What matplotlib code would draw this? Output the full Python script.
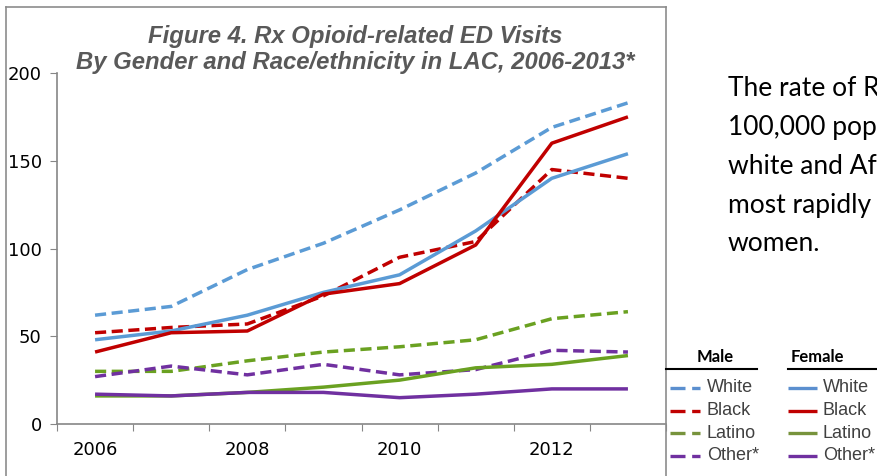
import matplotlib
matplotlib.use("Agg")
from matplotlib import pyplot as plt
from matplotlib.lines import Line2D

years = [2006, 2007, 2008, 2009, 2010, 2011, 2012, 2013]
races = ["White", "Black", "Latino", "Other*"]

male_white = [62, 67, 88, 103, 122, 143, 169, 183]
male_black = [52, 55, 57, 73, 95, 104, 145, 140]
male_latino = [30, 30, 36, 41, 44, 48, 60, 64]
male_other = [27, 33, 28, 34, 28, 31, 42, 41]

female_white = [48, 53, 62, 75, 85, 110, 140, 154]
female_black = [41, 52, 53, 74, 80, 102, 160, 175]
female_latino = [16, 16, 18, 21, 25, 32, 34, 39]
female_other = [17, 16, 18, 18, 15, 17, 20, 20]

male = [male_white, male_black, male_latino, male_other]
female = [female_white, female_black, female_latino, female_other]
line_colors = ["#5b9bd5", "#c00000", "#6aa121", "#7030a0"]
legend_colors = ["#5b8fcf", "#c00000", "#77933c", "#7030a0"]

side_text = ["The rate of R", "100,000 pop", "white and Af", "most rapidly", "women."]

W, H = 878, 476
fig = plt.figure(figsize=(W / 100, H / 100), dpi=100)

def fx(px):
    return px / W

def fy(py):
    return 1 - py / H

ax = fig.add_axes([fx(57), fy(424), fx(666) - fx(57), fy(73) - fy(424)])
ax.patch.set_alpha(0)

dash = (3.2, 1.6)
for vals, c in zip(male, line_colors):
    ax.plot(years, vals, color=c, lw=2.5, dashes=dash, dash_capstyle="butt")
for vals, c in zip(female, line_colors):
    ax.plot(years, vals, color=c, lw=2.5, solid_capstyle="butt")

ax.set_xlim(2005.5, 2013.5)
ax.set_ylim(0, 200)
ax.set_yticks([0, 50, 100, 150, 200])
ax.set_xticks([y - 0.5 for y in years] + [2013.5])
ax.set_xticklabels([])
ax.set_xticks([2006, 2008, 2010, 2012], minor=True)
ax.set_xticklabels(["2006", "2008", "2010", "2012"], minor=True)
ax.tick_params(axis="x", which="minor", length=0, pad=12, labelsize=13)
ax.tick_params(axis="x", which="major", length=5, color="#868686")
ax.tick_params(axis="y", length=5, color="#868686", pad=6, labelsize=13)
for s in ["top", "right"]:
    ax.spines[s].set_visible(False)
for s in ["left", "bottom"]:
    ax.spines[s].set_color("#868686")
    ax.spines[s].set_linewidth(1.2)
ax.spines["bottom"].set_zorder(0)

# chart border
bc = "#8c8c8c"
fig.add_artist(Line2D([fx(6), fx(6)], [fy(7), 0], color=bc, lw=1.2))
fig.add_artist(Line2D([fx(6), fx(666)], [fy(7), fy(7)], color=bc, lw=1.2))
fig.add_artist(Line2D([fx(666), fx(666)], [fy(7), 0], color=bc, lw=1.2))

fig.text(fx(355), fy(37), "Figure 4. Rx Opioid-related ED Visits", ha="center", va="center",
         fontsize=17.2, fontweight="bold", fontstyle="italic", color="#595959",
         family="Liberation Sans")
fig.text(fx(355), fy(63), "By Gender and Race/ethnicity in LAC, 2006-2013*", ha="center", va="center",
         fontsize=17.2, fontweight="bold", fontstyle="italic", color="#595959",
         family="Liberation Sans")

for i, t in enumerate(side_text):
    fig.text(fx(728), fy(88 + 39 * i), t, ha="left", va="center", fontsize=19,
             family="Lato", color="black")

# legend
fig.text(fx(715), fy(357), "Male", ha="center", va="center", fontsize=12,
         fontweight="bold", family="Lato")
fig.text(fx(791), fy(357), "Female", ha="left", va="center", fontsize=12,
         fontweight="bold", family="Lato")
fig.add_artist(Line2D([fx(666), fx(757)], [fy(369), fy(369)], color="black", lw=1.5))
fig.add_artist(Line2D([fx(788), fx(878)], [fy(369), fy(369)], color="black", lw=1.5))
for i, (r, c) in enumerate(zip(races, legend_colors)):
    y = fy(388 + 22.5 * i)
    fig.add_artist(Line2D([fx(670), fx(700)], [y, y], color=c, lw=2.4,
                          dashes=(4.5, 2.0), dash_capstyle="butt"))
    fig.text(fx(707), y, r, ha="left", va="center", fontsize=13, color="#404040",
             family="Liberation Sans")
    fig.add_artist(Line2D([fx(788), fx(817)], [y, y], color=c, lw=2.4,
                          solid_capstyle="butt"))
    fig.text(fx(823), y, r, ha="left", va="center", fontsize=13, color="#404040",
             family="Liberation Sans")

fig.savefig("out.png", dpi=100)
